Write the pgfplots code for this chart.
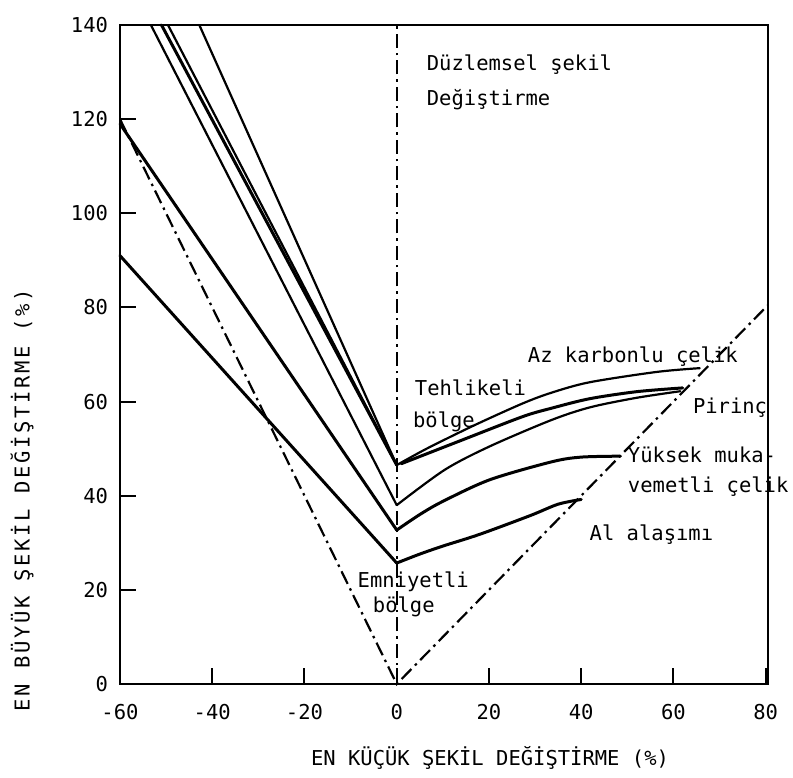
\documentclass[border=0pt]{standalone}
\usepackage{fontspec}
\setmainfont{DejaVu Sans Mono}
\usepackage{pgfplots}
\pgfplotsset{compat=1.18}
\begin{document}
\fontsize{20.5}{24}\selectfont
\begin{tikzpicture}
\path[use as bounding box] (0,0) rectangle (793pt,777pt);
\begin{axis}[
  at={(120pt,93pt)}, anchor=south west,
  scale only axis, width=648pt, height=659pt,
  xmin=-60, xmax=80.5, ymin=0, ymax=140,
  xtick={-60,-40,...,80}, ytick={0,20,...,140},
  tick align=inside, tick pos=left,
  major tick length=16pt,
  every tick/.style={black, line width=2pt},
  axis line style={line width=2.2pt},
  /pgf/number format/assume math mode=true,
  yticklabel style={xshift=-5pt},
  xticklabel style={yshift=-13pt},
  xlabel={EN KÜÇÜK ŞEKİL DEĞİŞTİRME (\%)},
  xlabel style={at={(axis description cs:0.571,-0.112)}, anchor=center},
  ylabel={\addfontfeature{LetterSpace=13}EN BÜYÜK ŞEKİL DEĞİŞTİRME (\%)},
  ylabel style={at={(axis description cs:-0.151,0.279)}, anchor=center, rotate=0},
  clip=false,
]
\pgfplotsset{
  thk/.style={black, line width=3pt, line join=round, line cap=round},
  thn/.style={black, line width=2.2pt, line join=round, line cap=round},
  dd/.style={black, line width=2.2pt, dash pattern=on 14pt off 5pt on 2.5pt off 5pt},
}
\tikzset{lbl/.style={anchor=west, inner sep=0pt}}
% reference lines
\addplot[dd] coordinates {(-60,120) (0,0) (80.5,80.5)};
\addplot[dd] coordinates {(0,0) (0,140)};
% left branches
\addplot[thn] coordinates {(-42.8,140) (0,46.5)};
\addplot[thk] coordinates {(-51,140) (0,46.5)};
\addplot[thn] coordinates {(-49.6,140) (0,46.5)};
\addplot[thn] coordinates {(-53.3,140) (0,38)};
\addplot[thk] coordinates {(-60,119) (0,32.7)};
\addplot[thk] coordinates {(-60,91) (0,25.7)};
% right branches
\addplot[thn, smooth] coordinates {(0,46.5) (6.7,50.1) (16.9,55) (27.3,59.6) (33.6,61.9) (41.8,64.1) (56.4,66.3) (65.7,67.1)};
\addplot[thk, smooth] coordinates {(1,46.8) (14.1,51.8) (27.3,56.8) (33.6,58.6) (41.8,60.6) (52,62.1) (62,62.9)};
\addplot[thn, smooth] coordinates {(0,38) (10.4,45.5) (20.2,50.5) (33.6,56.1) (42,58.8) (52,60.8) (61.5,62.2)};
\addplot[thk, smooth] coordinates {(0,32.7) (5,36) (10,38.8) (20.2,43.4) (33.6,47.2) (40,48.2) (48.5,48.4)};
\addplot[thk, smooth] coordinates {(0,25.7) (5,27.6) (10,29.3) (18,31.8) (29,35.8) (35,38.2) (40,39.2)};
% texts
\node[lbl] at (axis cs:6.5,131.5) {Düzlemsel şekil};
\node[lbl] at (axis cs:6.5,124.1) {Değiştirme};
\node[lbl] at (axis cs:28.4,69.5) {Az karbonlu çelik};
\node[lbl] at (axis cs:3.9,62.9) {Tehlikeli};
\node[lbl] at (axis cs:3.5,55.7) {bölge};
\node[lbl] at (axis cs:64.2,58.8) {Pirinç};
\node[lbl] at (axis cs:50.1,48.7) {Yüksek muka-};
\node[lbl] at (axis cs:50.1,41.9) {vemetli çelik};
\node[lbl] at (axis cs:41.8,31.7) {Al alaşımı};
\node[lbl] at (axis cs:-8.5,21.7) {Emniyetli};
\node[lbl] at (axis cs:-5.2,16.4) {bölge};
\end{axis}
\end{tikzpicture}
\end{document}
